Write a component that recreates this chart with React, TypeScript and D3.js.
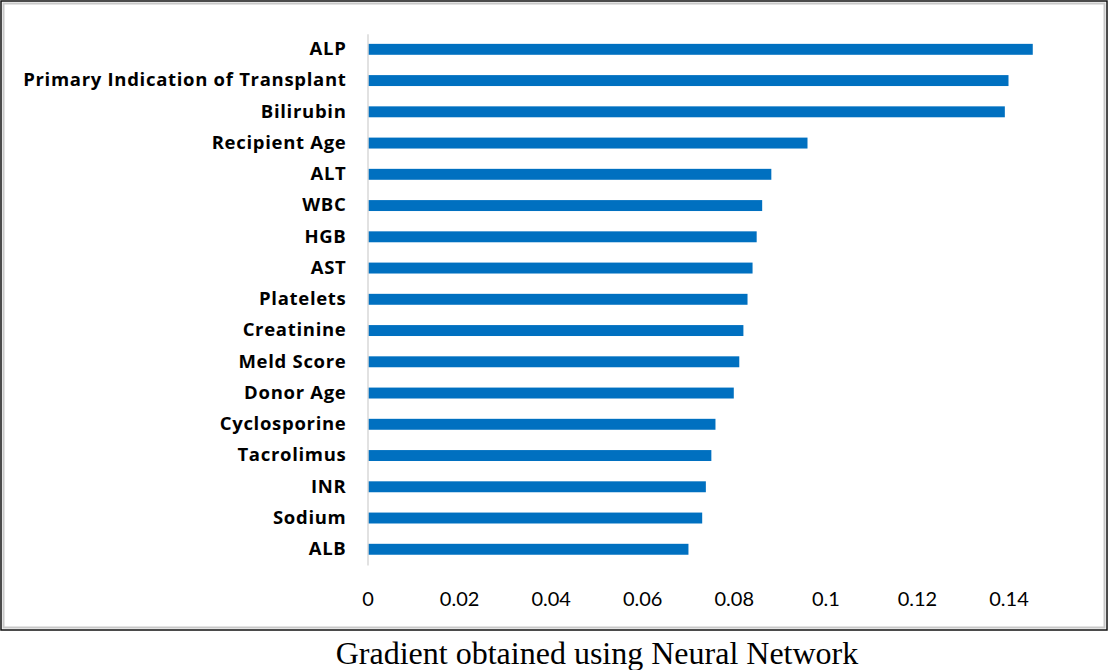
import React, {useEffect, useRef} from "react";
import * as d3 from "d3";

// feature names, top to bottom as in the picture
const features = [
    "ALP",
    "Primary Indication of Transplant",
    "Bilirubin",
    "Recipient Age",
    "ALT",
    "WBC",
    "HGB",
    "AST",
    "Platelets",
    "Creatinine",
    "Meld Score",
    "Donor Age",
    "Cyclosporine",
    "Tacrolimus",
    "INR",
    "Sodium",
    "ALB",
]
// gradient values
const gradients = [
    0.1453, 0.1400, 0.1392, 0.0961, 0.0882, 0.0862, 0.0850, 0.0841, 0.0830,
    0.0821, 0.0812, 0.0800, 0.0760, 0.0751, 0.0739, 0.0731, 0.0701,
]
const xTicks = [0, 0.02, 0.04, 0.06, 0.08, 0.1, 0.12, 0.14]
const caption = "Gradient obtained using Neural Network"

const W = 1108
const H = 670

const App = () => {
    const svgRef = useRef<SVGSVGElement>(null)

    useEffect(() => {
        const svg = d3.select(svgRef.current)
        svg.selectAll("*").remove()

        const rows = features.map((f, i) => ({name: f, value: gradients[i]}))

        const xScale = d3.scaleLinear().domain([0, 0.14]).range([367.5, 1008.5])
        const yScale = d3.scaleBand<string>()
            .domain(features)
            .range([33.7, 564.9])
            .paddingInner(0.65)
            .paddingOuter(0.325)

        // frame: outer black line and inner grey line
        svg.append("rect")
            .attr("x", 1).attr("y", 1)
            .attr("width", 1106).attr("height", 629)
            .attr("fill", "#fff")
            .attr("stroke", "#111")
            .attr("stroke-width", 1.5)
        svg.append("rect")
            .attr("x", 3.5).attr("y", 3.5)
            .attr("width", 1101).attr("height", 624)
            .attr("fill", "none")
            .attr("stroke", "#c8c8c8")
            .attr("stroke-width", 2)

        // bars
        svg.append("g")
            .selectAll("rect")
            .data(rows)
            .join("rect")
            .attr("x", xScale(0) + 0.5)
            .attr("y", d => yScale(d.name)!)
            .attr("width", d => xScale(d.value) - xScale(0) - 0.5)
            .attr("height", yScale.bandwidth())
            .attr("fill", "#0070c0")

        // category axis
        const yAxis = d3.axisLeft(yScale).tickSize(0).tickSizeOuter(0).tickPadding(21)
        const gy = svg.append("g")
            .attr("transform", `translate(${xScale(0)},0)`)
            .call(yAxis)
        gy.select(".domain").attr("stroke", "#d9d9d9").attr("stroke-width", 1.5)
        gy.selectAll("text")
            .attr("fill", "#000")
            .style("font-family", "'Open Sans', Lato, sans-serif")
            .style("font-weight", "bold")
            .style("font-size", "18.5px")
            .style("letter-spacing", "0.7px")

        // value axis
        const xAxis = d3.axisBottom(xScale)
            .tickValues(xTicks)
            .tickSize(0)
            .tickPadding(27)
            .tickFormat(d => String(+d))
        const gx = svg.append("g")
            .attr("transform", `translate(0,${564.9})`)
            .call(xAxis)
        gx.select(".domain").remove()
        gx.selectAll("text")
            .attr("fill", "#000")
            .style("font-family", "Lato, 'Open Sans', sans-serif")
            .style("font-size", "20px")

        // caption under the frame
        svg.append("text")
            .attr("x", 597)
            .attr("y", 664)
            .attr("text-anchor", "middle")
            .style("font-family", "'Liberation Serif', 'Times New Roman', serif")
            .style("font-size", "32px")
            .attr("fill", "#000")
            .text(caption)
    }, [])

    return (
        <div style={{position: "absolute", left: 0, top: 0}}>
            <svg ref={svgRef} width={W} height={H} style={{display: "block", background: "#fff"}}/>
        </div>
    );
};

export default App;
